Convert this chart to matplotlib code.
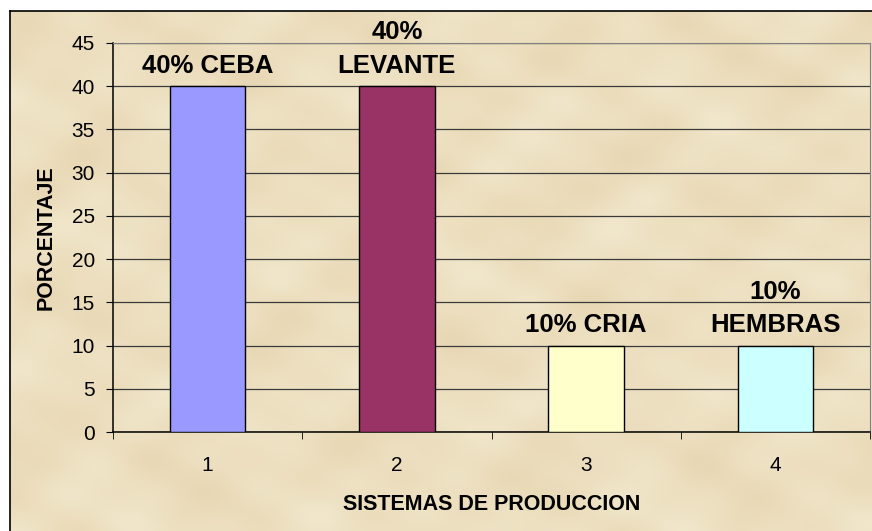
import matplotlib.pyplot as plt
import numpy as np

plt.rcParams['font.family'] = ['Liberation Sans', 'DejaVu Sans']

categorias = [1, 2, 3, 4]
porcentaje = [40, 40, 10, 10]
etiquetas = ["40% CEBA", "40%\nLEVANTE", "10% CRIA", "10%\nHEMBRAS"]
colores = ["#9999FF", "#993366", "#FFFFCC", "#CCFFFF"]

W, H = 872, 531
fig = plt.figure(figsize=(W/100, H/100), dpi=100)
fig.patch.set_facecolor("white")

# parchment background (smooth deterministic pattern)
bg = fig.add_axes([10/W, 0, (W-10)/W, (H-11)/H])
yy, xx = np.mgrid[0:130, 0:215]
tex = (np.sin(xx/7.0 + np.cos(yy/9.0)*2) + np.sin(yy/5.5 + np.sin(xx/11.0)*1.5)
       + 0.6*np.sin((xx+yy)/3.7) + 0.5*np.cos((xx-2*yy)/4.3))
tex = (tex - tex.min())/(tex.max() - tex.min())
base = np.array([241, 231, 203])/255.0
dark = np.array([232, 215, 180])/255.0
img = base*(1-tex[..., None]) + dark*tex[..., None]
bg.imshow(img, aspect='auto', interpolation='bicubic', extent=[0, 1, 0, 1])
bg.set_xticks([])
bg.set_yticks([])
for s in ['right', 'bottom']:
    bg.spines[s].set_visible(False)
for s in ['left', 'top']:
    bg.spines[s].set_color('black')
    bg.spines[s].set_linewidth(1.2)

ax = fig.add_axes([113/W, (H-432)/H, 757/W, 389/H])
ax.set_facecolor('none')
ax.bar(categorias, porcentaje, width=0.4, color=colores, edgecolor='black',
       linewidth=1, zorder=3)

for x, y, t in zip(categorias, porcentaje, etiquetas):
    ax.annotate(t, (x, y), xytext=(0, 6), textcoords='offset points',
                ha='center', va='bottom', fontsize=18.5, fontweight='bold',
                linespacing=1.5)

ax.set_ylim(0, 45)
ax.set_xlim(0.5, 4.5)
ax.set_yticks(range(0, 46, 5))
ax.yaxis.grid(True, color='#3a3a3a', linewidth=0.9)
ax.set_axisbelow(True)

ax.set_xticks(categorias)
ax.set_xticks([0.5, 1.5, 2.5, 3.5, 4.5], minor=True)
ax.tick_params(axis='x', which='major', length=0, pad=17, labelsize=15)
ax.tick_params(axis='x', which='minor', length=5, direction='out', color='black')
ax.tick_params(axis='y', length=5, direction='out', pad=8, labelsize=15)

ax.spines['left'].set_color('black')
ax.spines['bottom'].set_color('black')
ax.spines['left'].set_linewidth(1.1)
ax.spines['bottom'].set_linewidth(1.1)
ax.spines['top'].set_color('#808080')
ax.spines['right'].set_color('#808080')

ax.set_xlabel("SISTEMAS DE PRODUCCION", fontsize=15.5, fontweight='bold', labelpad=14)
ax.set_ylabel("PORCENTAJE", fontsize=15.5, fontweight='bold', labelpad=11)

fig.savefig("out.png", dpi=100)
